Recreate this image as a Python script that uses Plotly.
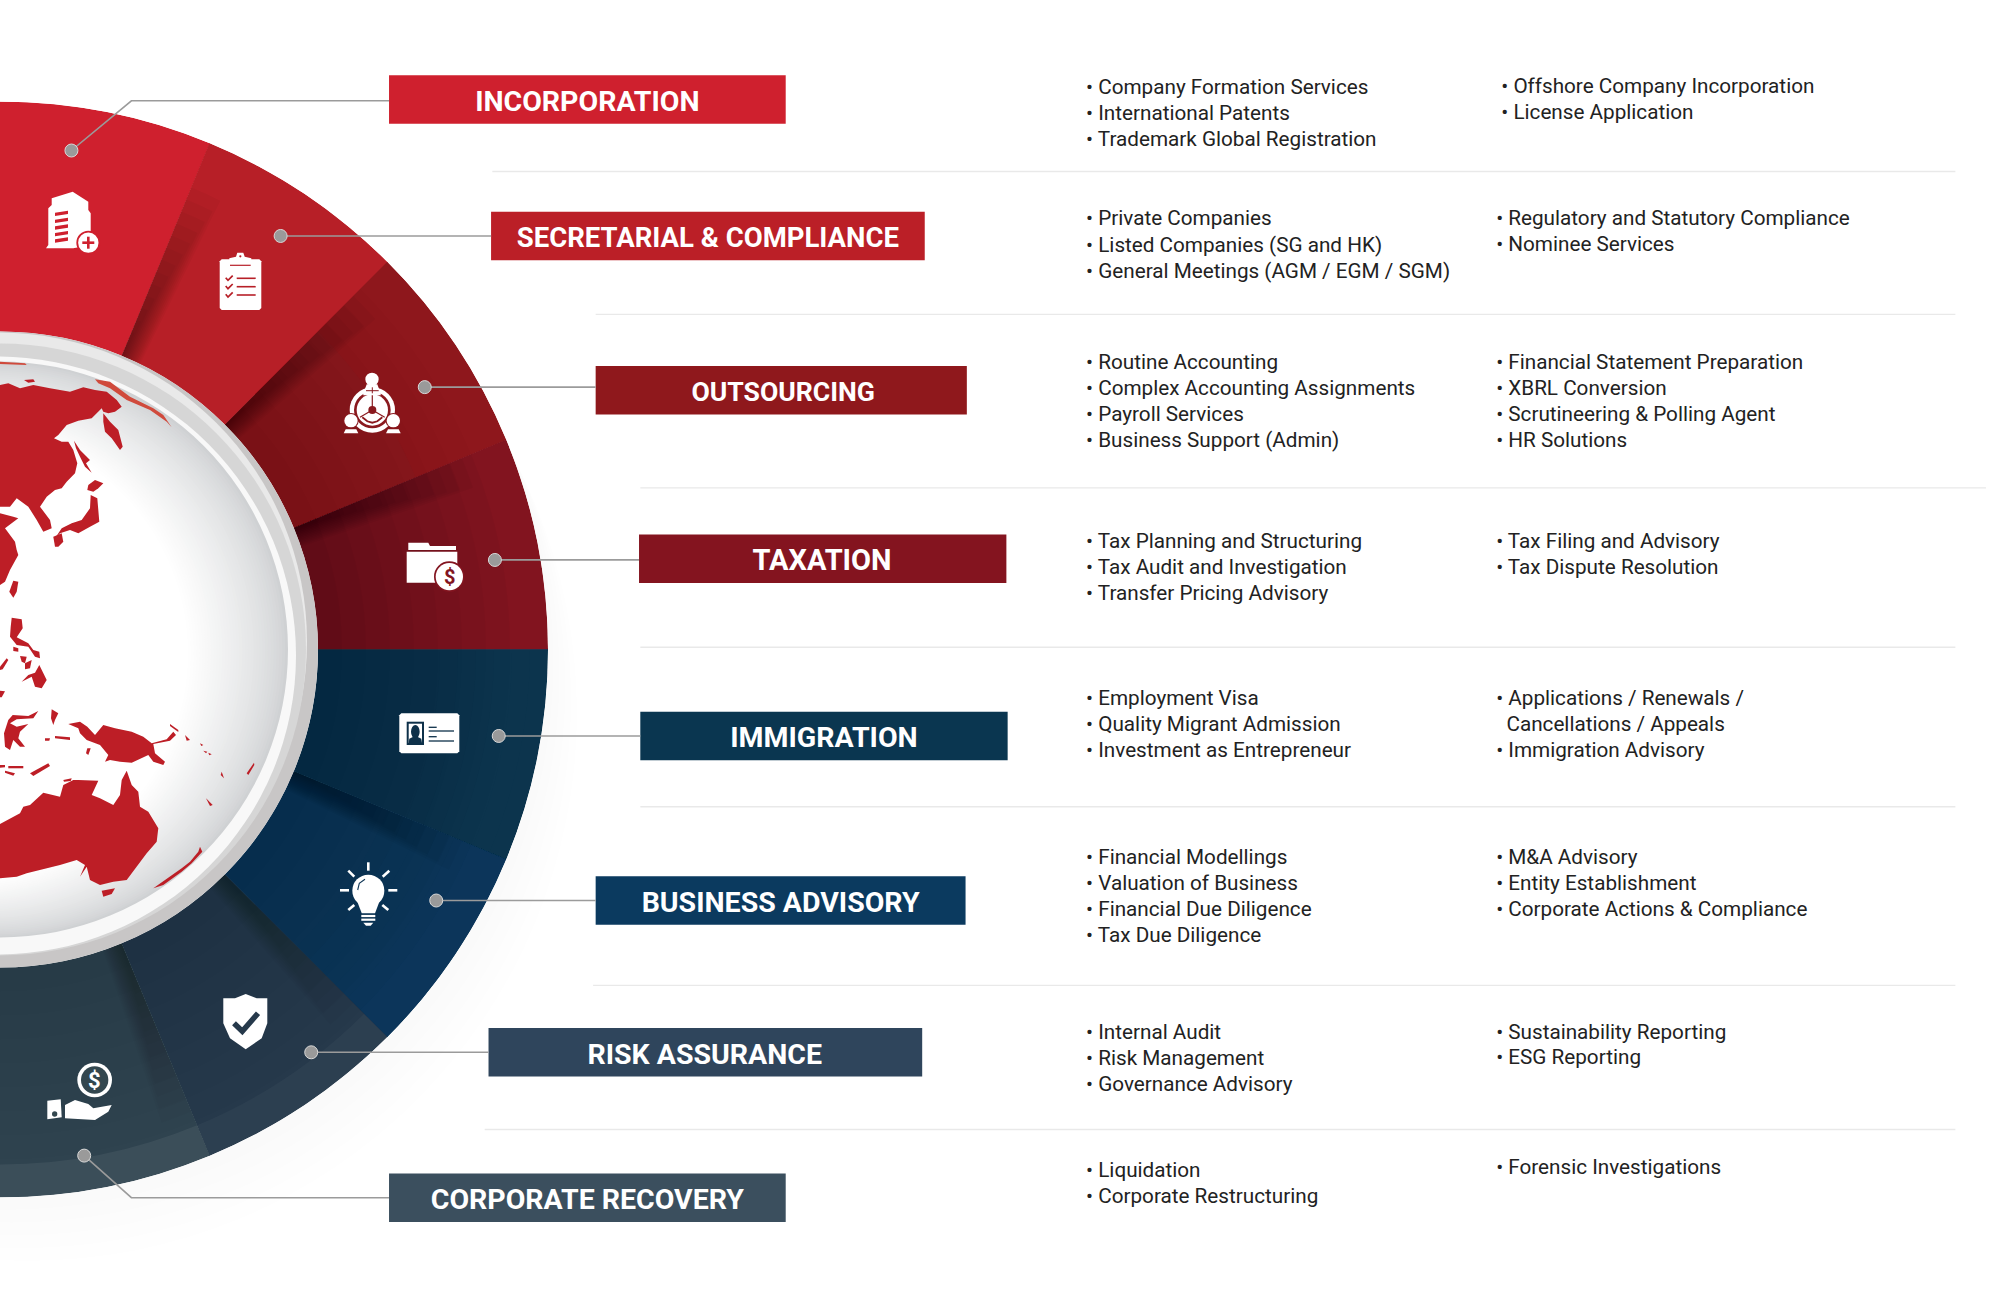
import plotly.graph_objects as go

# ---------- content ----------
SERVICES = ["INCORPORATION", "SECRETARIAL & COMPLIANCE", "OUTSOURCING", "TAXATION",
            "IMMIGRATION", "BUSINESS ADVISORY", "RISK ASSURANCE", "CORPORATE RECOVERY"]
SERVICE_COLORS = ["#cf202e", "#bb1f27", "#8f181c", "#84141f", "#0a3650", "#0b3a5f", "#2f455c", "#3b4f5e"]
SEGMENT_COLORS = ["#cf202e", "#b71f27", "#8a191e", "#82141f", "#0c3049", "#0e3555", "#26394b", "#2f434f"]
SEGMENT_ANGLES = [78.75, 56.25, 33.75, 11.25, -11.25, -33.75, -56.25, -78.75]
SEGMENT_SPAN = 22.5

COL1 = [["Company Formation Services", "International Patents", "Trademark Global Registration"],
        ["Private Companies", "Listed Companies (SG and HK)", "General Meetings (AGM / EGM / SGM)"],
        ["Routine Accounting", "Complex Accounting Assignments", "Payroll Services", "Business Support (Admin)"],
        ["Tax Planning and Structuring", "Tax Audit and Investigation", "Transfer Pricing Advisory"],
        ["Employment Visa", "Quality Migrant Admission", "Investment as Entrepreneur"],
        ["Financial Modellings", "Valuation of Business", "Financial Due Diligence", "Tax Due Diligence"],
        ["Internal Audit", "Risk Management", "Governance Advisory"],
        ["Liquidation", "Corporate Restructuring"]]
COL2 = [["Offshore Company Incorporation", "License Application"],
        ["Regulatory and Statutory Compliance", "Nominee Services"],
        ["Financial Statement Preparation", "XBRL Conversion", "Scrutineering & Polling Agent", "HR Solutions"],
        ["Tax Filing and Advisory", "Tax Dispute Resolution"],
        ["Applications / Renewals /", " Cancellations / Appeals", "Immigration Advisory"],
        ["M&A Advisory", "Entity Establishment", "Corporate Actions & Compliance"],
        ["Sustainability Reporting", "ESG Reporting"],
        ["Forensic Investigations"]]

# ---------- layout helpers (pixel space) ----------
K = 2000 / 1568
CX, CY, R = 0, 649.5, 548
RH, RW, RG = 318, 306, 288
BANDS = [(305, 616, 78), (385, 725, 185), (467, 758, 306), (501, 789, 438),
         (502, 790, 577), (467, 757, 706), (383, 723, 825), (305, 616, 939)]
LABEL_CENTERS = [460.5, 555, 614, 644.5, 646, 612, 552.5, 460.5]
LABEL_SIZES = [28.5, 27.5, 26.6, 29, 28.5, 28.5, 28.5, 28.5]
COL1_Y = [68, 171, 283.5, 424, 547, 671.5, 808.5, 917]
COL2_Y = [67, 171, 283.5, 424, 547, 671.5, 808.5, 915]
COL2_X = [1177, 1173, 1173, 1173, 1173, 1173, 1173, 1173]
SEPS = [(386, 1533, 134.5), (467, 1533, 246.5), (502, 1557, 382.5), (502, 1533, 507.5),
        (502, 1533, 632.5), (465, 1533, 772.5), (380, 1533, 885.5)]
LEADERS = [[(56, 118), (103, 79), (305, 79)], [(220, 185), (385, 185)], [(333, 303.5), (467, 303.5)],
           [(388, 439), (501, 439)], [(391, 577), (502, 577)], [(342, 706), (467, 706)],
           [(244, 825), (383, 825)], [(66, 906), (103, 939), (305, 939)]]

shapes = []
def circle(cx, cy, r, color, layer="above", opacity=1, ry=None, line=None):
    ry = r if ry is None else ry
    shapes.append(dict(type="circle", xref="x", yref="y", x0=cx - r, x1=cx + r, y0=cy - ry, y1=cy + ry,
                       fillcolor=color, line=line or dict(width=0), layer=layer, opacity=opacity))
def poly(pts, color, layer="above", closed=True, width=0, lcolor=None):
    d = "M" + " L".join(f"{x:.1f},{y:.1f}" for x, y in pts) + (" Z" if closed else "")
    shapes.append(dict(type="path", path=d, xref="x", yref="y", layer=layer,
                       fillcolor=color if closed else "rgba(0,0,0,0)",
                       line=dict(width=width, color=lcolor or color)))
def z(ox, oy, pts):
    return [(ox + x / 3, oy + y / 3) for x, y in pts]
def mix(a, b, t):
    ca = [int(a[i:i + 2], 16) for i in (1, 3, 5)]
    cb = [int(b[i:i + 2], 16) for i in (1, 3, 5)]
    return "rgb(%d,%d,%d)" % tuple(round(p + (q - p) * t) for p, q in zip(ca, cb))

# ---------- soft shadow under the disc ----------
for i in range(1, 6):
    d = 14 * i
    circle(CX + 0.42 * d, CY + 0.91 * d, R, "#000000", layer="below", opacity=0.004)

# ---------- sectors through a half polar plot ----------
traces = []
traces.append(go.Barpolar(theta=SEGMENT_ANGLES, r=[R - RH] * 8, base=[RH] * 8, width=[SEGMENT_SPAN + 0.05] * 8,
                          marker=dict(color=SEGMENT_COLORS, line=dict(width=0)), hoverinfo="skip", subplot="polar"))
def ring(theta, width, r0, r1, color, op):
    traces.append(go.Barpolar(theta=[theta], r=[r1 - r0], base=[r0], width=[width],
                              marker=dict(color=color, opacity=op, line=dict(width=0)),
                              hoverinfo="skip", subplot="polar"))
# lighter outer bands
ring(-78.75, 22.5, 515, R, "#ffffff", 0.06)
ring(-56.25, 22.5, 515, R, "#ffffff", 0.03)
ring(33.75, 22.5, 450, R, "#a01018", 0.22)
for k in range(6):
    ring(-11.25, 22.5, 440 + 18 * k, R, "#0a3e5f", 0.08)
    ring(-33.75, 22.5, 420 + 18 * k, R, "#0a3e68", 0.08)
# radial hub darkening, strength per segment
HUB = [0.0, 0.0, 0.012, 0.03, 0.012, 0.012, 0.008, 0.008]
for a, s in zip(SEGMENT_ANGLES, HUB):
    if s:
        for k in range(1, 9):
            ring(a, 22.5, RH, RH + 24 * k, "#000000", s)
# edge shadows on the high-angle side of each segment
EDGE = [0.0, 0.03, 0.03, 0.035, 0.0, 0.03, 0.02, 0.02]
for a, s in zip(SEGMENT_ANGLES, EDGE):
    if s:
        hi = a + 11.25
        for k in range(1, 15):
            w = 0.26 * k
            ring(hi - w / 2, w, RH, RH + 13 * k, "#000000", s)

# ---------- hub and globe ----------
circle(CX, CY, RH, "#c8c6c6")
circle(CX - 2, CY - 8, RH - 9, "#e9e9e9")
circle(CX, CY, RW, "#d6d6d6")
circle(CX - 3, CY + 6, RW - 7, "#f8f8f8")
N = 36
for i in range(N):
    t = i / (N - 1)
    circle(CX - 40 * t, CY + 4 * t, RG - t * 60, mix("#cfd1d3", "#ffffff", t ** 0.75))

# ---------- land outlines (in 3x crop units) ----------
LAND_COLOR = "#bd1e26"
ARC_COLOR = "#d04a3c"
LAND_A = [[(0,105),(25,100),(60,115),(100,105),(150,115),(210,125),(250,112),(285,120),(320,125),(350,150),(365,170),(345,185),(325,190),(310,185),(305,175),(290,190),(275,205),(235,212),(200,225),(175,255),(162,265),(185,275),(205,275),(220,300),(232,340),(225,370),(200,395),(185,415),(165,420),(140,440),(120,470),(150,510),(155,535),(130,545),(110,510),(85,470),(50,445),(30,470),(0,470)],
          [(0,490),(40,500),(55,505),(15,535),(45,575),(50,600),(0,600)],
          [(310,190),(330,215),(355,240),(368,290),(360,300),(335,265),(315,245),(310,215)],
          [(222,272),(240,300),(270,330),(258,340),(275,368),(255,350),(240,320),(228,295)],
          [(265,405),(285,390),(310,400),(295,415),(280,425),(262,420)],
          [(272,435),(292,445),(298,515),(270,530),(235,550),(210,540),(180,550),(165,565),(185,535),(215,520),(245,510),(270,475)],
          [(160,560),(185,550),(190,575),(175,590),(165,590)],
          [(72,90),(100,88),(105,95),(85,98)]]
ARCS_A = [[(285,88),(330,95),(390,140),(460,175),(490,195),(515,232),(500,215),(450,180),(380,150),(330,115),(295,100)],
          [(0,35),(75,40),(80,45),(0,42)]]
LAND_B = [[(50,0),(55,15),(30,60),(15,95),(0,105),(0,0)],
          [(40,92),(55,95),(50,125),(40,143),(28,125)],
          [(35,203),(65,208),(68,235),(50,262),(85,280),(100,300),(118,305),(120,325),(105,320),(85,290),(50,285),(30,260),(32,230)],
          [(118,345),(140,390),(125,415),(105,410),(95,380),(65,395),(85,375),(105,368)],
          [(60,318),(80,320),(75,340),(65,335)],
          [(75,340),(95,330),(90,355),(75,358)],
          [(40,290),(55,295),(55,305),(40,303)],
          [(20,325),(25,330),(8,358),(0,360),(0,350)],
          [(0,422),(15,424),(5,442),(0,442)],
          [(38,495),(85,498),(115,483),(100,505),(50,508),(30,520),(50,530),(85,522),(60,545),(55,565),(75,590),(60,590),(40,570),(30,600),(15,590),(12,550),(25,510)],
          [(155,478),(175,490),(165,510),(160,525),(153,505)]]
LAND_C = [[(205,12),(240,5),(262,20),(285,45),(310,15),(345,25),(395,35),(430,50),(455,70),(500,58),(520,35),(528,45),(510,62),(460,72),(465,100),(495,125),(490,135),(460,125),(445,105),(395,128),(360,125),(330,120),(315,125),(325,105),(300,75),(260,60),(240,40),(235,25)],
          [(165,48),(210,52),(210,60),(165,55)],
          [(135,55),(150,55),(148,62),(135,62)],
          [(262,85),(272,85),(265,105),(258,100)],
          [(90,160),(145,130),(150,138),(100,168)],
          [(25,138),(70,138),(70,145),(25,145)],
          [(15,152),(45,160),(40,167),(15,158)],
          [(0,135),(15,135),(15,142),(0,143)],
          [(555,45),(570,60),(560,62)],
          [(510,12),(535,30),(535,36),(510,18)],
          [(600,70),(610,75),(604,78)],
          [(610,92),(622,95),(618,100)],
          [(625,98),(635,103),(628,106)],
          [(665,155),(672,175),(662,165)],
          [(740,160),(762,128),(763,135),(745,165)],
          [(618,235),(638,255),(630,258)],
          [(460,505),(545,445),(570,425),(595,395),(600,380),(607,395),(575,430),(545,455),(490,495)],
          [(305,512),(345,505),(335,522),(310,530)],
          [(190,180),(215,175),(212,183),(192,185)],
          [(0,312),(60,280),(70,260),(90,255),(130,218),(180,230),(190,195),(220,180),(235,180),(295,182),(275,225),(300,235),(340,255),(360,225),(365,180),(380,152),(395,195),(415,215),(420,260),(445,275),(475,325),(470,365),(440,400),(380,480),(340,485),(300,495),(270,480),(260,440),(240,470),(255,435),(230,420),(180,435),(80,460),(50,470),(0,475)]]
for p in LAND_A:
    poly(z(0, 350, p), LAND_COLOR)
for p in ARCS_A:
    poly(z(0, 350, p), ARC_COLOR)
for p in LAND_B:
    poly(z(0, 550, p), LAND_COLOR)
for p in LAND_C:
    poly(z(0, 720, p), LAND_COLOR)

# ---------- leaders ----------
for pts, in zip(LEADERS):
    px = [(x * K, y * K) for x, y in pts]
    poly(px, "#9b9b9b", closed=False, width=1.6, lcolor="#9b9b9b")
    circle(px[0][0], px[0][1], 6.5, "#9a9a9a", line=dict(width=1, color="#d8d8d8"))

# ---------- icons ----------
W = "#ffffff"
# building with plus
B = (30, 180); red = SEGMENT_COLORS[0]
poly(z(*B, [(48,205),(55,195),(55,85),(65,75),(65,55),(128,35),(175,65),(175,90),(182,100),(182,195),(130,205)]), W)
for y0 in (92, 113, 133, 153, 172):
    poly(z(*B, [(75,y0+6),(114,y0),(114,y0+10),(75,y0+16)]), red)
bx, by = B[0] + 175 / 3, B[1] + 188 / 3
circle(bx, by, 12, red); circle(bx, by, 10.2, W)
poly([(bx - 6, by), (bx + 6, by)], red, closed=False, width=2.6)
poly([(bx, by - 6), (bx, by + 6)], red, closed=False, width=2.6)
# clipboard
c2 = SEGMENT_COLORS[1]
poly(z(*B, [(575,238),(688,238),(694,244),(694,384),(688,390),(575,390),(569,384),(569,244)]), W)
poly(z(*B, [(598,252),(598,235),(618,230),(622,218),(640,218),(644,230),(664,235),(664,252)]), W)
poly(z(*B, [(600,256),(662,256)]), c2, closed=False, width=1.2)
circle(B[0] + 631 / 3, B[1] + 229 / 3, 1.1, c2)
for y0 in (295, 320, 345):
    poly(z(*B, [(587,y0-2),(594,y0+6),(608,y0-8)]), c2, closed=False, width=1.7)
    poly(z(*B, [(620,y0),(677,y0)]), c2, closed=False, width=1.6)
# people circle
P = (330, 360); c3 = "#8a191e"
def zc(o, x, y, r, color, ry=None):
    circle(o[0] + x / 3, o[1] + y / 3, r / 3, color, ry=None if ry is None else ry / 3)
zc(P, 127, 150, 68, W); zc(P, 127, 150, 55, c3)
zc(P, 127, 150, 47, W)
zc(P, 127, 150, 12, c3)
for seg in ([(127,150),(127,104)], [(127,150),(90,172)], [(127,150),(164,172)]):
    poly(z(*P, seg), c3, closed=False, width=1.2)
poly(z(*P, [(97,172),(112,184),(127,188),(142,184),(157,172)]), c3, closed=False, width=1.8)
poly(z(*P, [(100,100),(120,85),(135,85),(152,100),(152,106),(100,106)]), W)
zc(P, 126, 58, 20, W)
poly(z(*P, [(110,73),(100,100),(152,100),(142,73)]), W)
poly(z(*P, [(108,92),(146,92)]), c3, closed=False, width=1)
poly(z(*P, [(127,82),(127,100)]), c3, closed=False, width=1)
for hx in (63, 190):
    zc(P, hx, 182, 23, c3); zc(P, hx, 182, 20, W)
    poly(z(*P, [(hx-22,220),(hx-16,208),(hx+16,208),(hx+22,220)]), W)
# folder with coin
c4 = SEGMENT_COLORS[3]
poly(z(*P, [(235,570),(235,548),(295,548),(300,558),(378,558),(378,570)]), W)
poly(z(*P, [(230,575),(382,575),(382,668),(230,668)]), W)
zc(P, 358, 650, 46, c4); zc(P, 358, 650, 41, W)
# id card
I = (320, 700); c5 = "#0d3049"
poly(z(*I, [(244,40),(412,40),(418,46),(418,154),(412,160),(244,160),(238,154),(238,46)]), W)
poly(z(*I, [(260,65),(312,65),(312,135),(260,135)]), c5)
poly(z(*I, [(266,71),(306,71),(306,129),(266,129)]), W)
zc(I, 286, 95, 13, c5, ry=20)
poly(z(*I, [(266,129),(268,116),(280,110),(292,110),(304,116),(306,129)]), c5)
for a, b, y0 in ((326, 350, 82), (326, 402, 93), (326, 350, 110), (326, 402, 123)):
    poly(z(*I, [(a,y0),(b,y0)]), c5, closed=False, width=1.3)
# bulb
zc(I, 145, 572, 48, W)
poly(z(*I, [(110,600),(180,600),(165,640),(125,640)]), W)
for y0 in (648, 659):
    poly(z(*I, [(124,y0),(166,y0)]), W, closed=False, width=2.2)
poly(z(*I, [(130,668),(160,668),(152,677),(138,677)]), W)
for seg in ([(145,487),(145,512)], [(85,512),(103,530)], [(208,512),(188,530)], [(60,571),(87,571)],
            [(205,571),(232,571)], [(85,630),(103,615)], [(205,630),(187,615)]):
    poly(z(*I, seg), W, closed=False, width=2.6)
poly(z(*I, [(113,570),(118,550),(135,538)]), "#0e3555", closed=False, width=1.1)
# shield
S = (30, 980); c7 = SEGMENT_COLORS[6]
poly(z(*S, [(580,55),(615,55),(647,42),(680,55),(712,55),(712,130),(695,175),(647,208),(600,175),(580,130)]), W)
poly(z(*S, [(612,130),(637,154),(684,100)]), c7, closed=False, width=5.5)
# hand and coin
c8 = "#33474f"
zc(S, 194, 300, 52, W); zc(S, 194, 300, 41, c8)
poly(z(*S, [(52,362),(92,358),(95,412),(52,418)]), W)
zc(S, 74, 402, 8, c8)
poly(z(*S, [(105,375),(135,360),(175,372),(190,385),(245,375),(235,395),(195,420),(105,415)]), W)

annotations = [
    dict(text="<b>$</b>", x=P[0] + 358 / 3, y=P[1] + 650 / 3, xref="x", yref="y", showarrow=False,
         font=dict(family="Roboto", size=20, color=c4)),
    dict(text="<b>$</b>", x=S[0] + 194 / 3, y=S[1] + 300 / 3, xref="x", yref="y", showarrow=False,
         font=dict(family="Roboto", size=22, color=W)),
]

# ---------- separators, bands and text ----------
for a, b, y0 in SEPS:
    shapes.append(dict(type="line", xref="x", yref="y", x0=a * K, x1=b * K, y0=y0 * K, y1=y0 * K,
                       layer="below", line=dict(color="#e9e9e9", width=1.4)))

traces.append(go.Bar(orientation="h", base=[b[0] * K for b in BANDS], x=[(b[1] - b[0]) * K for b in BANDS],
                     y=[b[2] * K for b in BANDS], width=38 * K, marker=dict(color=SERVICE_COLORS, line=dict(width=0)),
                     hoverinfo="skip", xaxis="x", yaxis="y"))
traces.append(go.Scatter(x=[c * K for c in LABEL_CENTERS], y=[(b[2] + 3.2) * K for b in BANDS], mode="text",
                         text=["<b>%s</b>" % s.replace("&", "&amp;") for s in SERVICES],
                         textposition="middle center", hoverinfo="skip",
                         textfont=dict(family="Roboto", size=LABEL_SIZES, color="#ffffff")))
tx, ty, tt = [], [], []
for i, lines in enumerate(COL1):
    for j, s in enumerate(lines):
        tx.append(851.5 * K); ty.append((COL1_Y[i] + 1.7 + 20.5 * j) * K); tt.append("• " + s)
for i, lines in enumerate(COL2):
    for j, s in enumerate(lines):
        tx.append(COL2_X[i] * K); ty.append((COL2_Y[i] + 1.7 + 20.3 * j) * K)
        tt.append(("\u00a0\u00a0" + s.strip()) if s.startswith(" ") else "• " + s)
traces.append(go.Scatter(x=tx, y=ty, mode="text", text=[t.replace("&", "&amp;") for t in tt],
                         textposition="middle right", hoverinfo="skip",
                         textfont=dict(family="Roboto", size=20.7, color="#222222")))

fig = go.Figure(traces)
fig.update_layout(
    width=2000, height=1295, margin=dict(l=0, r=0, t=0, b=0), showlegend=False,
    paper_bgcolor="#ffffff", plot_bgcolor="rgba(0,0,0,0)", barmode="overlay",
    xaxis=dict(range=[0, 2000], visible=False, fixedrange=True),
    yaxis=dict(range=[1295, 0], visible=False, fixedrange=True),
    polar=dict(domain=dict(x=[0, (CX + R) / 2000], y=[1 - (CY + R) / 1295, 1 - (CY - R) / 1295]),
               sector=[-90, 90], bgcolor="rgba(0,0,0,0)", barmode="overlay",
               radialaxis=dict(range=[0, R], visible=False),
               angularaxis=dict(visible=False, direction="counterclockwise", rotation=0)),
    shapes=shapes, annotations=annotations)
fig.write_html("out.html", config={"displayModeBar": False},
               post_script="document.body.style.margin='0';document.documentElement.style.overflow='hidden';")
